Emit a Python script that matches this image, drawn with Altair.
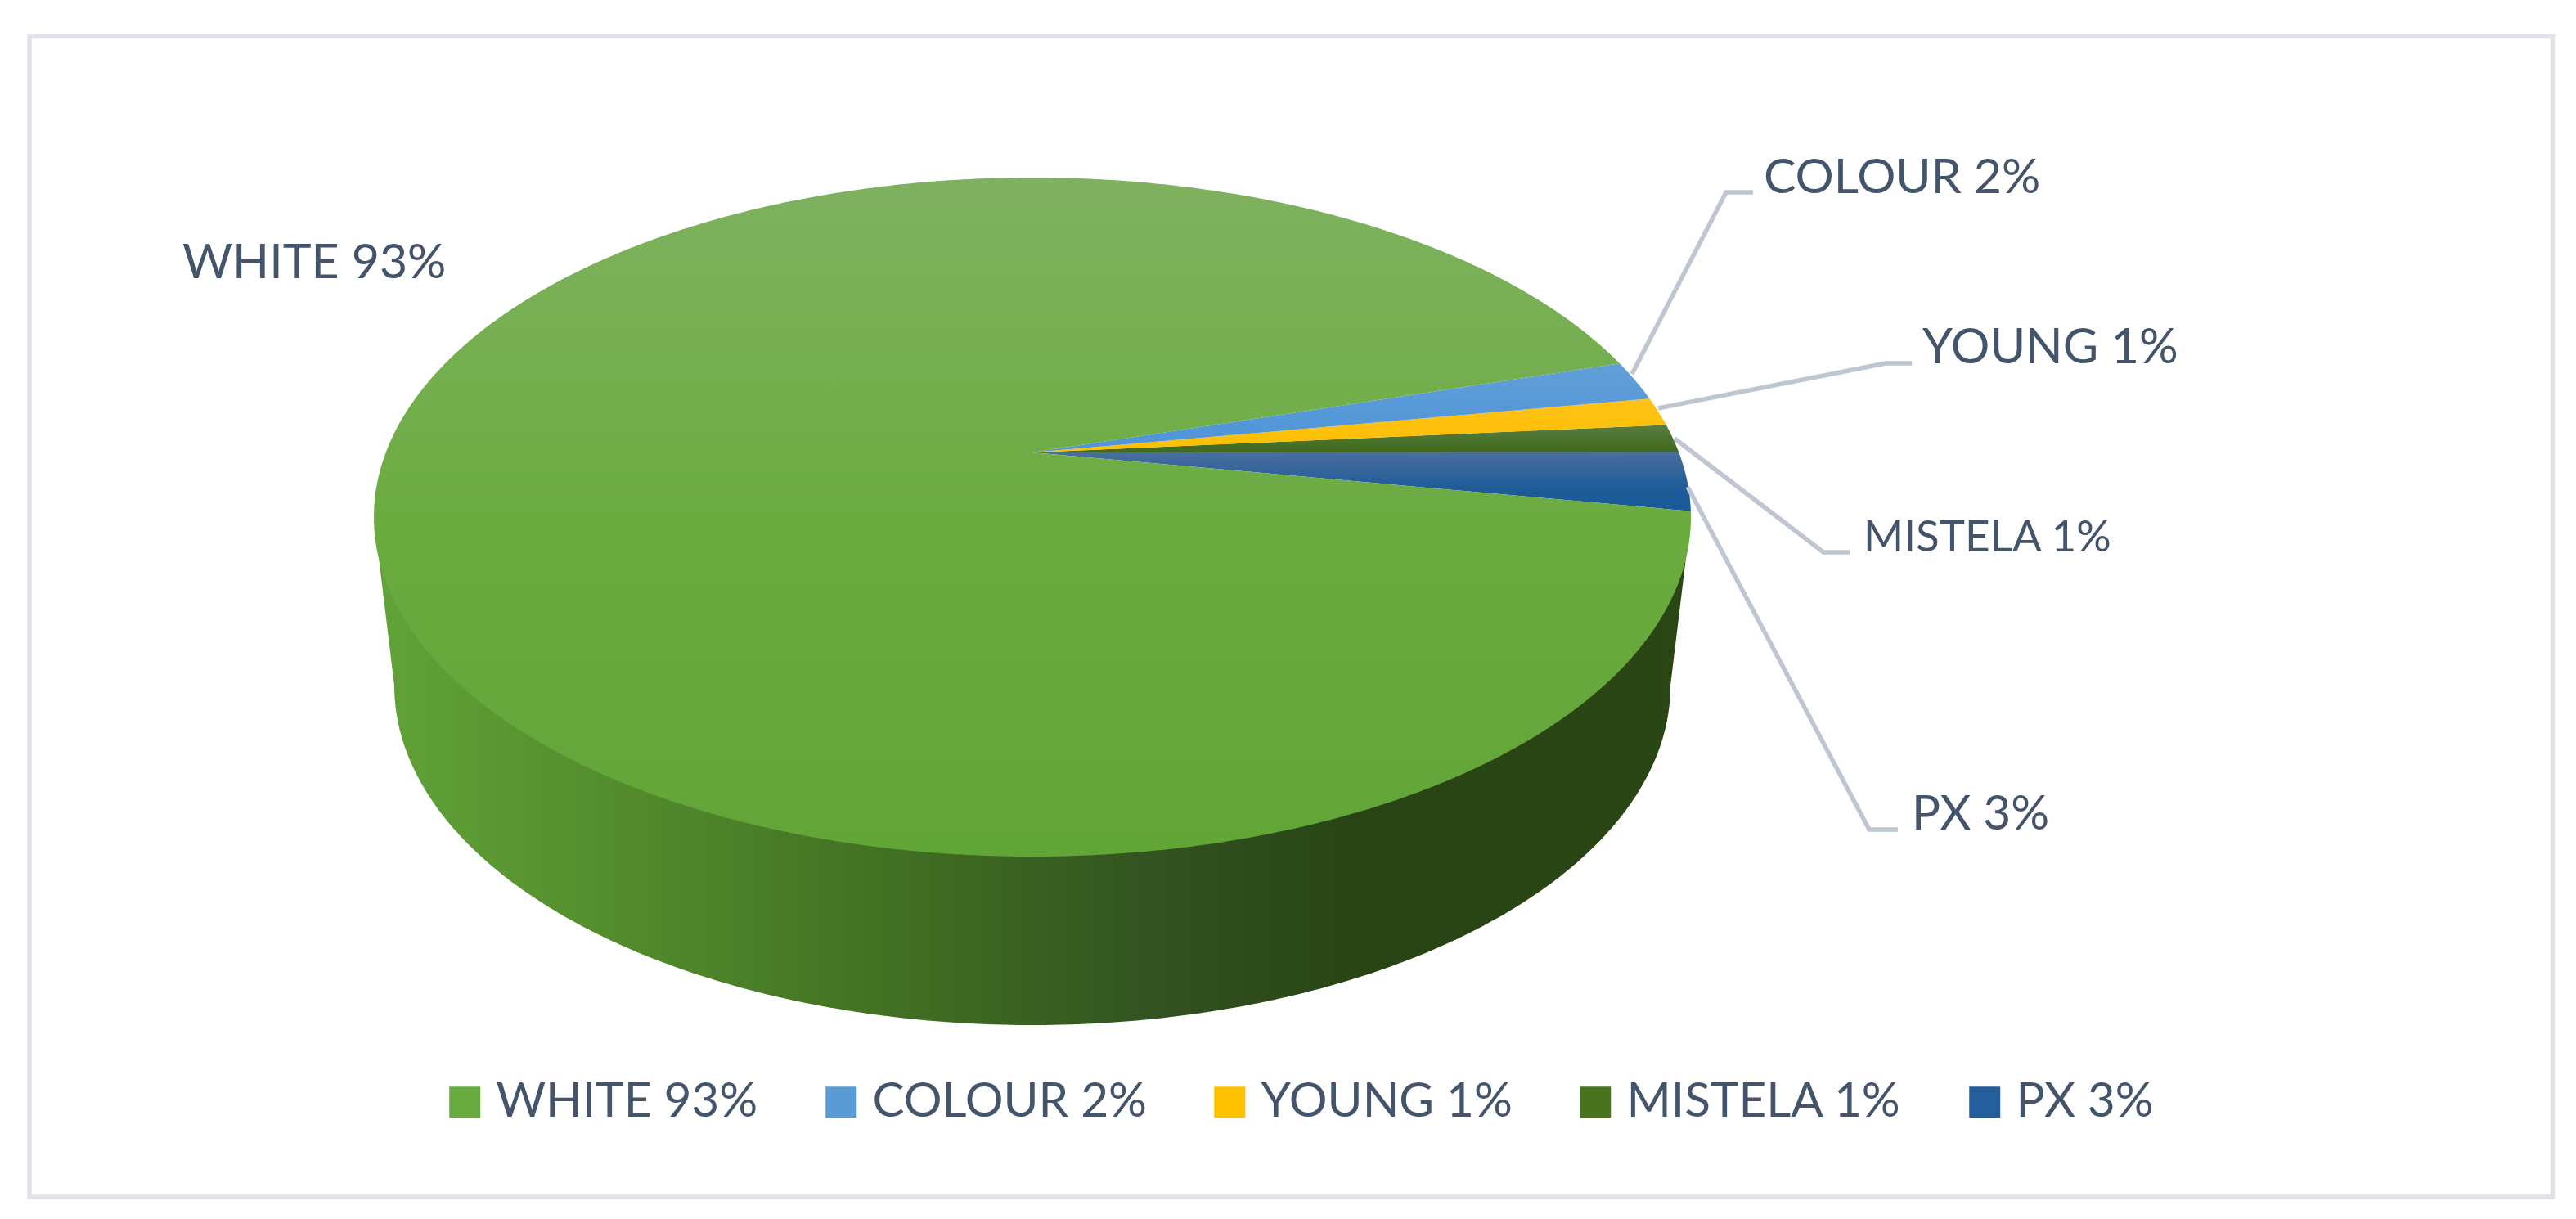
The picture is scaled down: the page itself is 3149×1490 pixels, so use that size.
import numpy as np
import pandas as pd
import altair as alt

# ---------- chart values ----------
categories = ["WHITE", "COLOUR", "YOUNG", "MISTELA", "PX"]
percent_labels = ["93%", "2%", "1%", "1%", "3%"]
# shares (labels are rounded)
shares = [92.9, 1.8, 1.3, 1.3, 2.8]
legend_colors = ["#6aab40", "#5b9bd5", "#ffc000", "#4a7320", "#255e9c"]

# ---------- layout (page pixels) ----------
W, H = 3133, 1474
TOP = dict(cx=1262, cy=632, rx=805, ry=415)
BOTTOM = dict(cx=1262, cy=838, rx=780, ry=415)
APEX = (1262, 553)
START_DEG = 1.0      # rim angle where the first wedge (PX, going up) begins
FRAME = dict(x=36, x2=3120.5, y=44.5, y2=1463)
label_pos = {
    "WHITE": (223, 340, 59), "COLOUR": (2156, 236, 59), "YOUNG": (2350, 444, 59.5),
    "MISTELA": (2278, 674, 53), "PX": (2337, 1014, 58.5),
}
leader_pts = {
    "COLOUR": [(1995, 457), (2110, 235), (2143, 235)],
    "YOUNG": [(2027, 499), (2305, 444), (2337, 444)],
    "MISTELA": [(2047, 536), (2229, 675), (2262, 675)],
    "PX": [(2063, 595), (2285, 1014), (2320, 1014)],
}
x_scale = alt.Scale(domain=[8, 8 + W], range=[0, W], nice=False, zero=False)
y_scale = alt.Scale(domain=[8, 8 + H], range=[0, H], nice=False, zero=False)
X = alt.X("x:Q", scale=x_scale, axis=None)
Y = alt.Y("y:Q", scale=y_scale, axis=None)


def vgrad(stops):
    return alt.LinearGradient(
        gradient="linear", x1=0, x2=0, y1=0, y2=1,
        stops=[alt.GradientStop(offset=o, color=c) for o, c in stops])


def hgrad(stops):
    return alt.LinearGradient(
        gradient="linear", x1=0, x2=1, y1=0, y2=0,
        stops=[alt.GradientStop(offset=o, color=c) for o, c in stops])


def rim(e, a0, a1, n):
    t = np.radians(np.linspace(a0, a1, n))
    return e["cx"] + e["rx"] * np.cos(t), e["cy"] - e["ry"] * np.sin(t)


def polygon(xs, ys, fill):
    df = pd.DataFrame({"x": np.round(xs, 2), "y": np.round(ys, 2), "o": np.arange(len(xs))})
    return alt.Chart(df).mark_line(fill=fill, strokeWidth=0, strokeOpacity=0).encode(
        x=X, y=Y, order=alt.Order("o:Q"))


# ---------- side wall ----------
bx, by = rim(BOTTOM, 0, -180, 240)
wall_x = np.r_[TOP["cx"] + TOP["rx"], bx, TOP["cx"] - TOP["rx"]]
wall_y = np.r_[TOP["cy"], by, TOP["cy"]]
wall = polygon(wall_x, wall_y, hgrad([
    (0, "#62a338"), (0.2, "#528a2c"), (0.42, "#3f6c22"),
    (0.6, "#325220"), (0.75, "#284414"), (1, "#2a4615")]))

# ---------- top face: wedges run counter-clockwise from PX ----------
total = sum(shares)
order = ["PX", "MISTELA", "YOUNG", "COLOUR", "WHITE"]
share_of = dict(zip(categories, shares))
fills = {
    "WHITE": vgrad([(0, "#7fb160"), (0.35, "#72ae4a"), (0.5, "#6bab40"), (1, "#62a537")]),
    "COLOUR": vgrad([(0, "#629fd8"), (1, "#4d94d8")]),
    "YOUNG": vgrad([(0, "#ffc21a"), (1, "#fcbf00")]),
    "MISTELA": vgrad([(0, "#5a7d42"), (1, "#3f6a1a")]),
    "PX": vgrad([(0, "#4a6f9f"), (0.6, "#1f5c98"), (1, "#1a5a9a")]),
}
wedges = []
a = START_DEG
for name in order:
    span = share_of[name] / total * 360
    rx_, ry_ = rim(TOP, a, a + span, max(8, int(span * 2)))
    wedges.append(polygon(np.r_[APEX[0], rx_], np.r_[APEX[1], ry_], fills[name]))
    a += span

# ---------- leaders, labels, frame ----------
leaders = []
for name, pts in leader_pts.items():
    df = pd.DataFrame(pts, columns=["x", "y"]).assign(o=range(len(pts)))
    leaders.append(alt.Chart(df).mark_line(color="#bfc6d2", strokeWidth=5.5).encode(
        x=X, y=Y, order=alt.Order("o:Q")))

full_labels = [f"{c} {p}" for c, p in zip(categories, percent_labels)]
lab_df = pd.DataFrame({
    "label": full_labels,
    "x": [label_pos[c][0] for c in categories],
    "y": [label_pos[c][1] for c in categories],
    "fs": [label_pos[c][2] for c in categories],
})
labels = alt.Chart(lab_df).mark_text(
    align="left", baseline="alphabetic", font="Lato", color="#44546a"
).encode(x=X, y=Y, text="label:N", size=alt.Size("fs:Q", scale=None, legend=None))

frame = alt.Chart(pd.DataFrame([FRAME])).mark_rect(
    fillOpacity=0, stroke="#e0e3e8", strokeWidth=5.5
).encode(x=X, x2="x2:Q", y=Y, y2="y2:Q")

# ---------- legend (real one, driven by a zero-size layer) ----------
leg_df = pd.DataFrame({"label": full_labels, "x": [TOP["cx"]] * 5, "y": [TOP["cy"]] * 5})
legend_layer = alt.Chart(leg_df).mark_square(size=0, opacity=1).encode(
    x=X, y=Y,
    color=alt.Color("label:N", scale=alt.Scale(domain=full_labels, range=legend_colors),
                    legend=alt.Legend(
                        orient="none", legendX=531, legendY=1310, direction="horizontal",
                        columns=5, gridAlign="none", columnPadding=72, title=None,
                        symbolType="square", symbolSize=1444, symbolStrokeWidth=0,
                        symbolOpacity=1, labelFont="Lato", labelFontSize=58.5,
                        labelColor="#44546a", labelOffset=9, labelLimit=0, padding=0,
                        rowPadding=0)),
)

chart = alt.layer(frame, wall, *wedges, *leaders, labels, legend_layer).properties(
    width=W, height=H, padding=0, background="white",
    autosize=alt.AutoSizeParams(type="none"),
).configure_view(stroke=None)

chart.save("out.html", embed_options={"renderer": "svg", "actions": False})
